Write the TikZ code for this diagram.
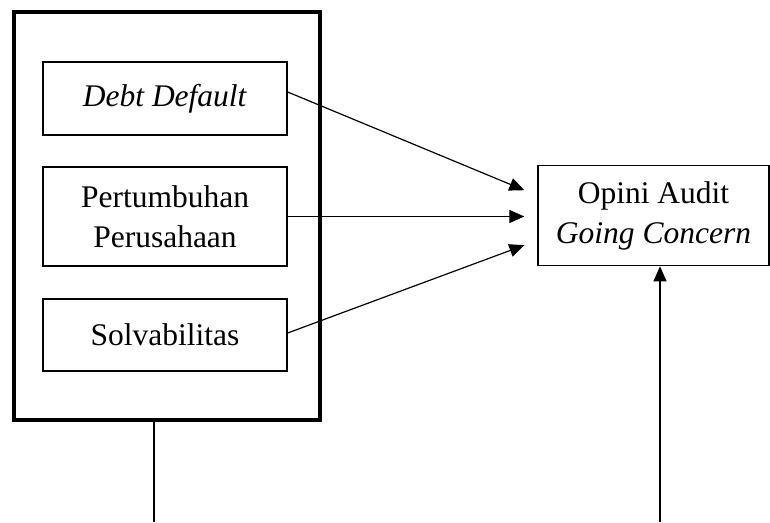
\documentclass[tikz,border=0pt]{standalone}
\usepackage{fontspec}
\setmainfont{Liberation Serif}
\usetikzlibrary{arrows.meta}
\begin{document}
\begin{tikzpicture}[x=1pt,y=-1pt,
  box/.style={draw,line width=1.3pt,minimum width=244pt,inner sep=0pt,align=center,font=\fontsize{31.5}{40}\selectfont},
  arr/.style={line width=1.2pt,-{Triangle[length=15pt,width=13pt]}},
  ln/.style={line width=1.2pt}]
\useasboundingbox (0,0) rectangle (770,522);
\node[draw,line width=4pt,minimum width=306.5pt,minimum height=408.5pt,inner sep=0pt] (outer) at (166.75,215.75) {};
\node[box,minimum height=73pt] (debt) at (165,98.5) {\textit{Debt Default}};
\node[box,minimum height=99pt] (pert) at (165,216.5) {Pertumbuhan\\Perusahaan};
\node[box,minimum height=72pt] (solv) at (165,335) {Solvabilitas};
\node[box,minimum width=231pt,minimum height=100pt] (oa) at (653.5,215.7) {Opini Audit\\\textit{Going Concern}};
\coordinate (tip) at ([xshift=-13pt]oa.west);
\draw[arr] ([yshift=6.5pt]debt.east) -- ([yshift=25.5pt]tip);
\draw[arr] (pert.east) -- (pert.east -| tip);
\draw[arr] ([yshift=2pt]solv.east) -- ([yshift=-29.5pt]tip);
\coordinate (b1) at (154,522);
\coordinate (b2) at (660,522);
\draw[ln] ([xshift=-12.75pt]outer.south) -- (b1);
\draw[arr] (b2) -- ([xshift=6.5pt]oa.south);
\end{tikzpicture}
\end{document}
